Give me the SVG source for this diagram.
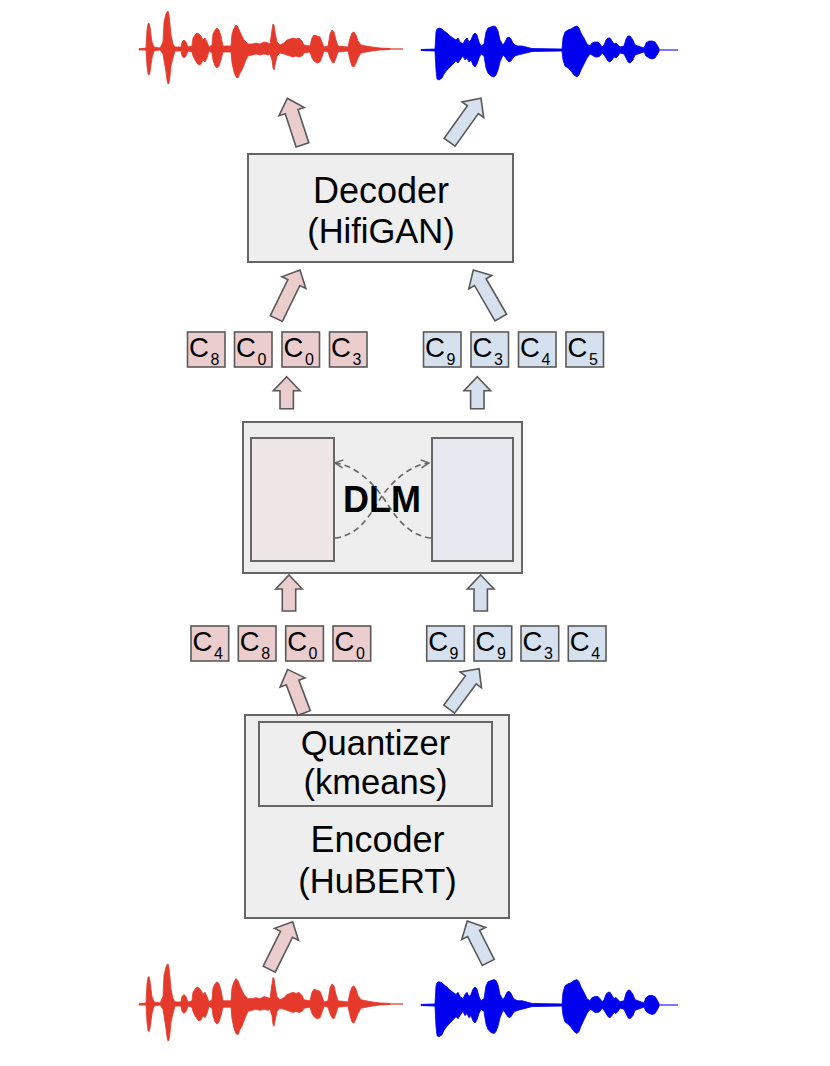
<svg xmlns="http://www.w3.org/2000/svg" xmlns:xlink="http://www.w3.org/1999/xlink" width="830" height="1066" viewBox="0 0 830 1066">
<style>
.box{fill:#eeeeee;stroke:#666666;stroke-width:2}
.lbl{font-family:"Liberation Sans",Arial,sans-serif;font-size:34.5px;fill:#000;text-anchor:middle}
.big{font-size:36px}
.tok{font-family:"Liberation Sans",Arial,sans-serif;font-size:27.5px;fill:#000}
.sub{font-size:16px}
.tr{fill:#ebcdcd;stroke:#595959;stroke-width:1.6}
.tb{fill:#d5e1ef;stroke:#595959;stroke-width:1.6}
.ar{fill:#ebcdcd;stroke:#595959;stroke-width:1.6;stroke-linejoin:miter}
.ab{fill:#d5e1ef;stroke:#595959;stroke-width:1.6;stroke-linejoin:miter}
.dash{fill:none;stroke:#666666;stroke-width:1.6;stroke-dasharray:6 4}
.wr{fill:#e5392b;stroke:#e5392b;stroke-width:0.8;stroke-linejoin:round}
.wb{fill:#0000ee;stroke:#0000ee;stroke-width:0.8;stroke-linejoin:round}
</style>
<defs>
<marker id="chev" viewBox="0 0 10 10" refX="9" refY="5" markerWidth="10" markerHeight="10" markerUnits="userSpaceOnUse" orient="auto">
<path d="M1,1 L9,5 L1,9" fill="none" stroke="#666666" stroke-width="1.5"/>
</marker>
<g id="wave-red">
<line x1="139" y1="49" x2="403" y2="49" stroke="#ec5a4e" stroke-width="1.6"/>
<path class="wr" d="M139,49 L146,48 L147,30 L148,24 L149,23 L150,27 L151,35 L152,42 L154,47 L160,48 L163,42 L164,22 L166,14 L167,12 L168,11 L169,15 L170,24 L171,35 L173,44 L175,47 L181,47 L182,42 L184,40 L186,42 L188,47 L192,46 L193,38 L195,35 L197,33 L199,34 L201,36 L203,40 L205,38 L207,42 L209,47 L212,45 L213,34 L215,30 L217,28 L219,30 L221,36 L223,46 L231,46 L232,34 L234,28 L236,25 L238,27 L240,32 L242,36 L244,40 L246,42 L248,44 L252,44 L256,43 L260,44 L264,42 L268,43 L270,44 L272,30 L273,24 L274,25 L275,32 L277,42 L280,45 L284,43 L287,40 L290,39 L293,38 L296,39 L299,38 L302,41 L304,45 L310,46 L312,38 L314,35 L317,36 L320,37 L322,42 L324,47 L328,46 L330,34 L332,30 L334,32 L336,40 L338,46 L348,47 L350,38 L352,33 L354,32 L356,35 L358,41 L361,45 L366,46 L372,47 L380,48 L390,48.5 L390,49.5 L380,50 L372,51 L366,52 L361,53 L358,58 L356,63 L354,67 L352,66 L350,60 L348,51 L338,52 L336,58 L334,63 L332,62 L330,58 L328,52 L324,51 L322,57 L320,62 L317,63 L314,61 L312,58 L310,52 L304,53 L302,56 L299,57 L296,56 L293,57 L290,56 L287,55 L284,54 L280,53 L277,56 L275,65 L274,70 L273,68 L272,60 L270,54 L268,55 L264,54 L260,55 L256,54 L252,55 L248,56 L246,60 L244,65 L242,70 L240,73 L238,78 L236,77 L234,72 L232,63 L231,52 L223,52 L221,60 L219,66 L217,68 L215,66 L213,60 L212,53 L209,51 L207,58 L205,62 L203,60 L201,64 L199,65 L197,63 L195,60 L193,56 L192,52 L188,51 L186,56 L184,58 L182,56 L181,51 L175,51 L173,58 L171,66 L170,76 L169,83 L168,84 L167,80 L166,72 L164,60 L163,54 L160,50 L154,51 L152,58 L151,65 L150,72 L149,75 L148,74 L147,66 L146,50 L139,50 Z"/>
</g>
<g id="wave-blue">
<line x1="421" y1="50" x2="678" y2="50" stroke="#4a4aff" stroke-width="1.6"/>
<path class="wb" d="M421,49.5 L435,49 L436,32 L437,29 L439,28 L442,29 L444,31 L447,33 L450,36 L453,38 L456,40 L458,38 L460,42 L463,44 L465,40 L467,38 L469,42 L471,40 L473,35 L475,33 L477,35 L479,42 L481,46 L484,44 L486,32 L488,28 L491,27 L494,26 L496,27 L498,31 L500,40 L503,45 L505,42 L507,38 L509,37 L511,39 L513,43 L515,45 L518,46 L522,46 L526,47 L532,48.5 L562,49 L563,38 L565,32 L568,30 L571,29 L574,27 L577,26 L579,28 L581,33 L584,38 L587,44 L590,46 L592,43 L595,42 L598,42 L600,44 L602,47 L604,45 L606,40 L608,38 L610,38 L612,41 L614,44 L616,43 L618,45 L620,47 L624,46 L626,39 L628,36 L630,36 L633,40 L635,45 L644,48 L646,43 L649,41 L652,41 L655,42 L657,45 L659,48.5 L659,51.5 L657,55 L655,58 L652,59 L649,58 L646,56 L644,52 L635,55 L633,60 L630,63 L628,62 L626,58 L624,54 L620,53 L618,56 L616,58 L614,57 L612,60 L610,62 L608,61 L606,58 L604,55 L602,53 L600,56 L598,57 L595,57 L592,55 L590,54 L587,58 L584,64 L581,70 L579,75 L577,77 L574,75 L571,71 L568,68 L565,66 L563,60 L562,51 L532,51.5 L526,53 L522,54 L518,55 L515,56 L513,58 L511,61 L509,62 L507,60 L505,57 L503,55 L500,62 L498,70 L496,75 L494,77 L491,76 L488,73 L486,68 L484,56 L481,54 L479,58 L477,64 L475,67 L473,65 L471,60 L469,62 L467,58 L465,60 L463,56 L460,60 L458,63 L456,61 L453,64 L450,67 L447,70 L444,74 L442,78 L439,80 L437,79 L436,70 L435,51 L421,50.5 Z"/>
</g>
</defs>
<rect width="830" height="1066" fill="#ffffff"/>

<g id="wave-top-red"><use xlink:href="#wave-red" href="#wave-red"/></g>
<g id="wave-top-blue"><use xlink:href="#wave-blue" href="#wave-blue"/></g>
<g id="wave-bottom-red"><use xlink:href="#wave-red" href="#wave-red" transform="translate(0,1004) scale(1,1.06) translate(0,-49)"/></g>
<g id="wave-bottom-blue"><use xlink:href="#wave-blue" href="#wave-blue" transform="translate(0,1005) scale(1,1.06) translate(0,-50)"/></g>

<g id="decoder">
<rect class="box" x="248" y="154" width="265" height="108"/>
<text class="lbl big" x="381" y="203">Decoder</text>
<text class="lbl" x="381" y="243">(HifiGAN)</text>
</g>

<g id="tokens-out-red">
<rect class="tr" x="187.5" y="332" width="37.5" height="35"/><text class="tok" x="189" y="357">C<tspan class="sub" dx="1.5" dy="8">8</tspan></text>
<rect class="tr" x="234.5" y="332" width="37.5" height="35"/><text class="tok" x="236" y="357">C<tspan class="sub" dx="1.5" dy="8">0</tspan></text>
<rect class="tr" x="282" y="332" width="37.5" height="35"/><text class="tok" x="283.5" y="357">C<tspan class="sub" dx="1.5" dy="8">0</tspan></text>
<rect class="tr" x="329.5" y="332" width="37.5" height="35"/><text class="tok" x="331" y="357">C<tspan class="sub" dx="1.5" dy="8">3</tspan></text>
</g>
<g id="tokens-out-blue">
<rect class="tb" x="423.5" y="332" width="37.5" height="35"/><text class="tok" x="425" y="357">C<tspan class="sub" dx="1.5" dy="8">9</tspan></text>
<rect class="tb" x="471" y="332" width="37.5" height="35"/><text class="tok" x="472.5" y="357">C<tspan class="sub" dx="1.5" dy="8">3</tspan></text>
<rect class="tb" x="518.5" y="332" width="37.5" height="35"/><text class="tok" x="520" y="357">C<tspan class="sub" dx="1.5" dy="8">4</tspan></text>
<rect class="tb" x="566" y="332" width="37.5" height="35"/><text class="tok" x="567.5" y="357">C<tspan class="sub" dx="1.5" dy="8">5</tspan></text>
</g>

<g id="dlm">
<rect class="box" x="243" y="422" width="279" height="151"/>
<rect x="251" y="438" width="83" height="123" fill="#eee6e6" stroke="#666666" stroke-width="2"/>
<rect x="432" y="438" width="81" height="123" fill="#e6eaf0" stroke="#666666" stroke-width="2"/>
<path class="dash" d="M335,538 C362,535 372,510 382,496 S410,465 429,463" marker-end="url(#chev)"/>
<path class="dash" d="M431,538 C404,535 392,510 382,496 S354,465 335,463" marker-end="url(#chev)"/>
<text x="382" y="511.5" font-family="'Liberation Sans',Arial,sans-serif" font-size="36" font-weight="bold" text-anchor="middle" fill="#000">DLM</text>
</g>

<g id="tokens-in-red">
<rect class="tr" x="191" y="626" width="37.7" height="35"/><text class="tok" x="192.5" y="651">C<tspan class="sub" dx="1.5" dy="8">4</tspan></text>
<rect class="tr" x="238.3" y="626" width="37.7" height="35"/><text class="tok" x="239.8" y="651">C<tspan class="sub" dx="1.5" dy="8">8</tspan></text>
<rect class="tr" x="285.7" y="626" width="37.7" height="35"/><text class="tok" x="287.2" y="651">C<tspan class="sub" dx="1.5" dy="8">0</tspan></text>
<rect class="tr" x="333" y="626" width="37.7" height="35"/><text class="tok" x="334.5" y="651">C<tspan class="sub" dx="1.5" dy="8">0</tspan></text>
</g>
<g id="tokens-in-blue">
<rect class="tb" x="426.7" y="626" width="37.7" height="35"/><text class="tok" x="428.2" y="651">C<tspan class="sub" dx="1.5" dy="8">9</tspan></text>
<rect class="tb" x="474" y="626" width="37.7" height="35"/><text class="tok" x="475.5" y="651">C<tspan class="sub" dx="1.5" dy="8">9</tspan></text>
<rect class="tb" x="521" y="626" width="37.7" height="35"/><text class="tok" x="522.5" y="651">C<tspan class="sub" dx="1.5" dy="8">3</tspan></text>
<rect class="tb" x="568.3" y="626" width="37.7" height="35"/><text class="tok" x="569.8" y="651">C<tspan class="sub" dx="1.5" dy="8">4</tspan></text>
</g>

<g id="encoder">
<rect class="box" x="245" y="715" width="264" height="203"/>
<rect x="259" y="722" width="233" height="84" fill="none" stroke="#666666" stroke-width="2"/>
<text class="lbl" x="375.5" y="755">Quantizer</text>
<text class="lbl" x="375.5" y="794">(kmeans)</text>
<text class="lbl big" x="377.5" y="852">Encoder</text>
<text class="lbl" x="377.5" y="893">(HuBERT)</text>
</g>

<g id="connectors">
<path class="ar" transform="translate(287.3,98.3) rotate(-18)" d="M0,0 L13.3,14 L6.7,14 L6.7,49 L-6.7,49 L-6.7,14 L-13.3,14 Z"/>
<path class="ab" transform="translate(481,98.3) rotate(35.5)" d="M0,0 L13.3,14 L6.7,14 L6.7,54 L-6.7,54 L-6.7,14 L-13.3,14 Z"/>
<path class="ar" transform="translate(300,270) rotate(26)" d="M0,0 L13.3,14 L6.7,14 L6.7,54 L-6.7,54 L-6.7,14 L-13.3,14 Z"/>
<path class="ab" transform="translate(473.3,270) rotate(-30)" d="M0,0 L13.3,14 L6.7,14 L6.7,55 L-6.7,55 L-6.7,14 L-13.3,14 Z"/>
<path class="ar" transform="translate(286.7,376.7)" d="M0,0 L13.3,14 L6.7,14 L6.7,32 L-6.7,32 L-6.7,14 L-13.3,14 Z"/>
<path class="ab" transform="translate(477.3,376.7)" d="M0,0 L13.3,14 L6.7,14 L6.7,32 L-6.7,32 L-6.7,14 L-13.3,14 Z"/>
<path class="ar" transform="translate(289,575)" d="M0,0 L13.3,14 L6.7,14 L6.7,36 L-6.7,36 L-6.7,14 L-13.3,14 Z"/>
<path class="ab" transform="translate(480.7,575)" d="M0,0 L13.3,14 L6.7,14 L6.7,36 L-6.7,36 L-6.7,14 L-13.3,14 Z"/>
<path class="ar" transform="translate(287.6,669.4) rotate(-20.7)" d="M0,0 L13.3,14 L6.7,14 L6.7,46.6 L-6.7,46.6 L-6.7,14 L-13.3,14 Z"/>
<path class="ab" transform="translate(479.1,668.7) rotate(36.5)" d="M0,0 L13.3,14 L6.7,14 L6.7,50.3 L-6.7,50.3 L-6.7,14 L-13.3,14 Z"/>
<path class="ar" transform="translate(292.7,921.7) rotate(26.3)" d="M0,0 L13.3,14 L6.7,14 L6.7,53 L-6.7,53 L-6.7,14 L-13.3,14 Z"/>
<path class="ab" transform="translate(467.3,921) rotate(-26.8)" d="M0,0 L13.3,14 L6.7,14 L6.7,46.5 L-6.7,46.5 L-6.7,14 L-13.3,14 Z"/>
</g>
</svg>
